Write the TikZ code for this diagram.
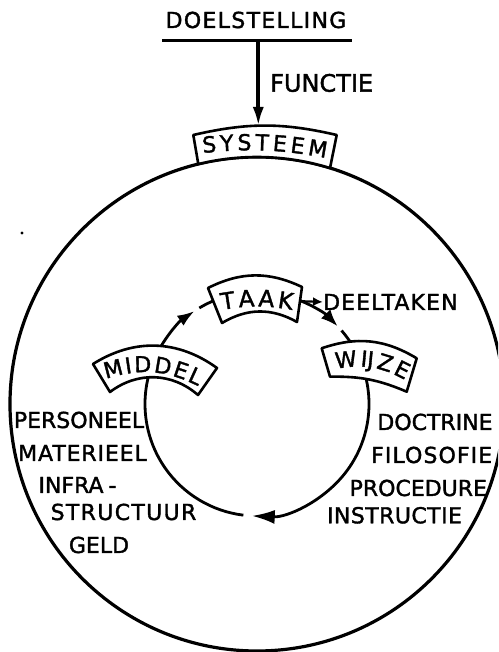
\documentclass[tikz,border=0pt]{standalone}
\usepackage{fontspec}
\setmainfont{DejaVu Sans}[FakeBold=1.6]
\usetikzlibrary{arrows.meta,decorations.text,calc}
\begin{document}
\begin{tikzpicture}[x=1pt,y=1pt,
  lbl/.style={inner sep=0pt, font=\fontsize{22}{26}\selectfont, anchor=base},
  ls/.style={font=\fontsize{22}{26}\selectfont\addfontfeature{LetterSpace=#1}},
  banner/.style={draw, line width=2.6pt, fill=white, line join=round},
  ring/.style={line width=2.8pt},
  ctext/.style={decorate, decoration={text along path, text align={fit to path}, text={#1}}},
]
\useasboundingbox (0,0) rectangle (498,652);
\clip (0,0) rectangle (498,652);
\coordinate (C) at (257,248);
% outer circle
\draw[line width=3.2pt] (C) circle[radius=247];
\fill (22,419) circle[radius=1.6];
% top
\node[lbl, ls=6] (doel) at (256,624) {DOELSTELLING};
\coordinate (ulL) at (162,611.3);
\coordinate (ulR) at (352,611.3);
\draw[line width=2.6pt] (ulL) -- (ulR);
\coordinate (fTop) at (258.3,611.3);
\coordinate (sysTop) at (258.3,525);
\draw[line width=4pt, -{Latex[length=20pt,width=11pt]}] (fTop) -- (sysTop);
\node[lbl, anchor=base west, font=\fontsize{24}{28}\selectfont] (func) at (270,560.3) {FUNCTIE};
% inner circle arcs
\draw[ring, -{Latex[length=17pt,width=12pt]}] ($(C)+(152:112)$) arc[start angle=152,end angle=124,radius=112];
\draw[ring] ($(C)+(121:112)$) arc[start angle=121,end angle=108,radius=112];
\draw[ring, -{Latex[length=17pt,width=13pt]}] ($(C)+(72:112)$) arc[start angle=72,end angle=44,radius=112];
\draw[ring] ($(C)+(41:112)$) arc[start angle=41,end angle=28,radius=112];
\draw[ring] ($(C)+(155:112)$) arc[start angle=155,end angle=263,radius=112];
\draw[ring, -{Latex[length=23pt,width=14pt]}] ($(C)+(20:112)$) arc[start angle=20,end angle=-92.7,radius=112];
% deeltaken
\node[lbl, ls=5, anchor=base west] (deel) at (323,342) {DEELTAKEN};
\coordinate (taakR) at (295,351);
\draw[line width=2.2pt, -{Latex[length=10pt,width=9pt]}] (taakR) -- (deel.west);
% banners
\draw[banner] (193.3,517) to[bend left=13] (336.7,517) -- ($(C)+(72.8:247)$) arc[start angle=72.8,end angle=103.75,radius=247] -- cycle;
\path[ctext={|\fontsize{22}{26}\selectfont|SYSTEEM}] (203,499) to[bend left=8] (326,494);
\draw[banner] (208,364) to[bend left=26] (302,365) -- (297,330) to[bend right=30] (222,329) -- cycle;
\path[ctext={|\fontsize{23}{27}\selectfont|TAAK}] (222,342) to[bend left=10] (292,342);
\draw[banner] (93,288) to[bend left=34] (217,284) -- (198,257) to[bend right=39] (110,260) -- cycle;
\path[ctext={|\fontsize{22}{26}\selectfont|MIDDEL}] (106,273) to[bend left=22] (198,266);
\draw[banner] (321.7,303.7) to[bend left=25] (416.7,293.7) -- (406.7,260.3) to[bend right=12] (330,275.3) -- cycle;
\path[ctext={|\fontsize{22}{26}\selectfont|WĲZE}] (336,283) to[bend left=20] (405,272);
% left list
\node[lbl] (pers) at (79,224) {PERSONEEL};
\node[lbl, ls=4] (mat) at (82.5,191) {MATERIEEL};
\node[lbl] (infra) at (77.5,159) {INFRA\hspace{5pt}-};
\node[lbl, ls=6] (struc) at (123.5,132) {STRUCTUUR};
\node[lbl] (geld) at (99,99) {GELD};
% right list
\node[lbl] (doct) at (435,222) {DOCTRINE};
\node[lbl, ls=5] (filo) at (431.7,189) {FILOSOFIE};
\node[lbl] (proc) at (418.3,156) {PROCEDURE};
\node[lbl, ls=2] (instr) at (394.5,128.7) {INSTRUCTIE};
\end{tikzpicture}
\end{document}
